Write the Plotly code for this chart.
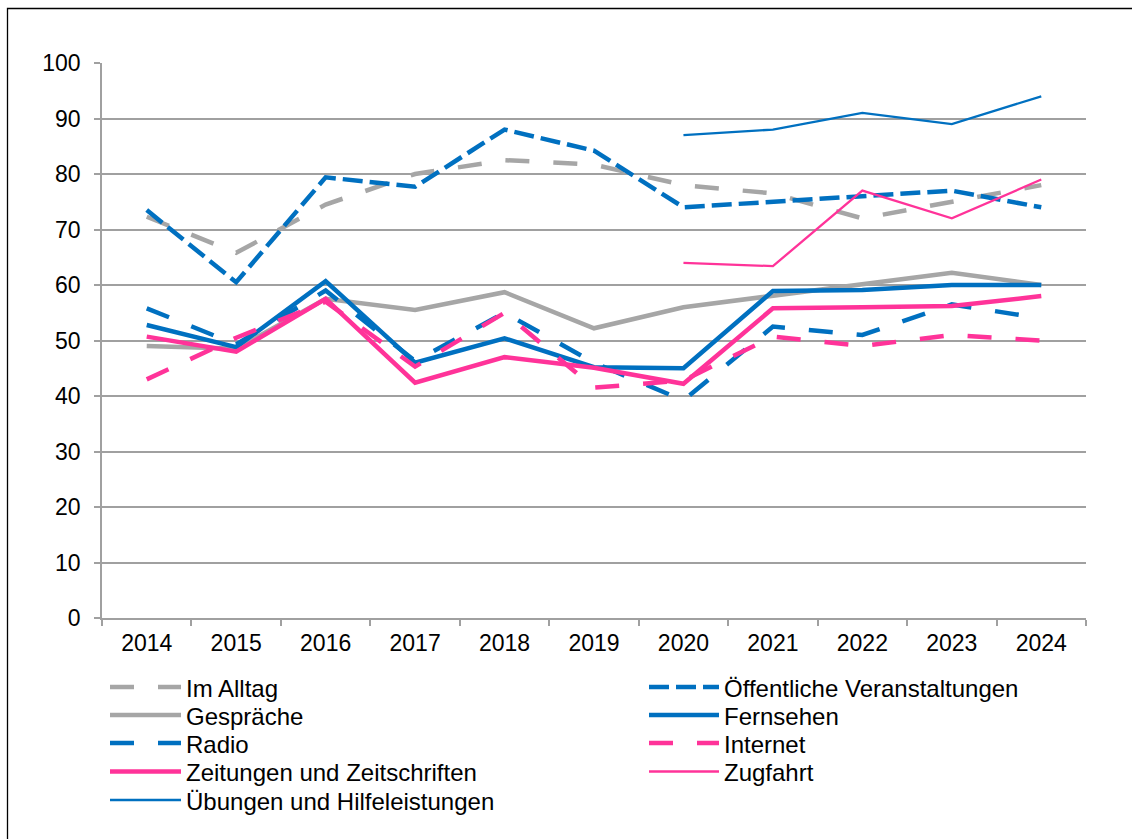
import plotly.graph_objects as go

# ---------------- data ----------------
years = ["2014", "2015", "2016", "2017", "2018", "2019", "2020", "2021", "2022", "2023", "2024"]

im_alltag = [72.3, 65.8, 74.5, 80.0, 82.5, 81.7, 78.0, 76.5, 72.0, 75.0, 78.0]
oeffentliche = [73.5, 60.5, 79.4, 77.7, 88.0, 84.2, 74.0, 75.0, 76.2, 77.0, 74.0]
gespraeche = [49.0, 48.5, 57.5, 55.5, 58.7, 52.2, 56.0, 58.0, 60.0, 62.2, 60.0]
fernsehen = [52.8, 48.8, 60.7, 46.0, 50.4, 45.2, 45.0, 58.9, 59.1, 60.0, 60.0]
radio = [55.8, 49.3, 59.0, 46.3, 55.0, 46.0, 39.2, 52.5, 51.0, 56.5, 54.0]
internet = [43.0, 50.5, 57.0, 45.3, 55.0, 41.5, 42.8, 50.7, 49.0, 51.0, 50.0]
zeitungen = [50.7, 48.0, 57.5, 42.4, 47.0, 45.1, 42.2, 55.8, 56.0, 56.2, 58.0]
zugfahrt = [None, None, None, None, None, None, 64.0, 63.4, 77.0, 72.0, 79.0]
uebungen = [None, None, None, None, None, None, 87.0, 88.0, 91.0, 89.0, 94.0]

names = ["Im Alltag", "Öffentliche Veranstaltungen", "Gespräche", "Fernsehen", "Radio",
         "Internet", "Zeitungen und Zeitschriften", "Zugfahrt", "Übungen und Hilfeleistungen"]
series = [im_alltag, oeffentliche, gespraeche, fernsehen, radio, internet, zeitungen, zugfahrt, uebungen]

GRAY = "#A6A6A6"
BLUE = "#0070C0"
PINK = "#FF3399"
LONG = "24px,24px"
SHORT = "20px,7px"
styles = [
    (GRAY, 4.5, LONG),
    (BLUE, 4.5, SHORT),
    (GRAY, 4.5, "solid"),
    (BLUE, 4.5, "solid"),
    (BLUE, 4.5, LONG),
    (PINK, 4.5, LONG),
    (PINK, 4.5, "solid"),
    (PINK, 2.3, "solid"),
    (BLUE, 2.3, "solid"),
]

FONT = "Liberation Sans, Arial, sans-serif"

# ---------------- layout geometry (pixels) ----------------
W, H = 1132, 839
L, R, T, B = 102, 46, 63, 221
PW, PH = W - L - R, H - T - B


def px(x):
    return (x - L) / PW


def py(y):
    return (T + PH - y) / PH


fig = go.Figure()
for name, vals, (col, wid, dash) in zip(names, series, styles):
    fig.add_trace(go.Scatter(
        x=years, y=vals, name=name, mode="lines",
        line=dict(color=col, width=wid, dash=dash),
        connectgaps=False, showlegend=False, hoverinfo="x+y+name",
    ))

shapes = []
annotations = []
# outer frame
shapes.append(dict(type="rect", xref="paper", yref="paper",
                   x0=px(7.5), x1=px(1140), y0=py(850), y1=py(8.5),
                   line=dict(color="#000000", width=1.3), fillcolor="rgba(0,0,0,0)", layer="below"))

# custom legend (two columns, row-wise order)
row_y = [687, 715, 743, 771.5, 800]
for i, (name, (col, wid, dash)) in enumerate(zip(names, styles)):
    r, c = divmod(i, 2)
    yy = row_y[r]
    if c == 0:
        lx0, lx1, tx = 110, 181, 184
    else:
        lx0, lx1, tx = 649, 719, 722
    shapes.append(dict(type="line", xref="paper", yref="paper",
                       x0=px(lx0), x1=px(lx1), y0=py(yy), y1=py(yy),
                       line=dict(color=col, width=wid, dash=dash)))
    annotations.append(dict(xref="paper", yref="paper", x=px(tx), y=py(yy + 1),
                            text=name, showarrow=False, xanchor="left", yanchor="middle",
                            font=dict(family=FONT, size=24, color="#000000")))

fig.update_layout(
    width=W, height=H,
    margin=dict(l=L, r=R, t=T, b=B, pad=0),
    paper_bgcolor="white", plot_bgcolor="white",
    font=dict(family=FONT, size=23, color="#000000"),
    shapes=shapes, annotations=annotations,
    showlegend=False,
    xaxis=dict(
        type="category", range=[-0.5, 10.5], showgrid=False,
        showline=True, linecolor="#A0A0A0", linewidth=1.5,
        ticks="outside", tickson="boundaries", ticklen=6, tickwidth=1.5, tickcolor="#A0A0A0",
        tickfont=dict(family=FONT, size=23, color="#000000"),
        ticklabelstandoff=4, zeroline=False, fixedrange=True,
    ),
    yaxis=dict(
        range=[0, 100], dtick=10, tick0=0,
        showgrid=True, gridcolor="#A0A0A0", gridwidth=1.5,
        showline=True, linecolor="#A0A0A0", linewidth=1.5,
        ticks="outside", ticklen=6, tickwidth=1.5, tickcolor="#A0A0A0",
        tickfont=dict(family=FONT, size=23, color="#000000"),
        ticklabelstandoff=9, zeroline=False, fixedrange=True,
    ),
)

fig.write_html("out.html", config={"displayModeBar": False},
               post_script="document.body.style.margin='0px';document.body.style.overflow='hidden';")
